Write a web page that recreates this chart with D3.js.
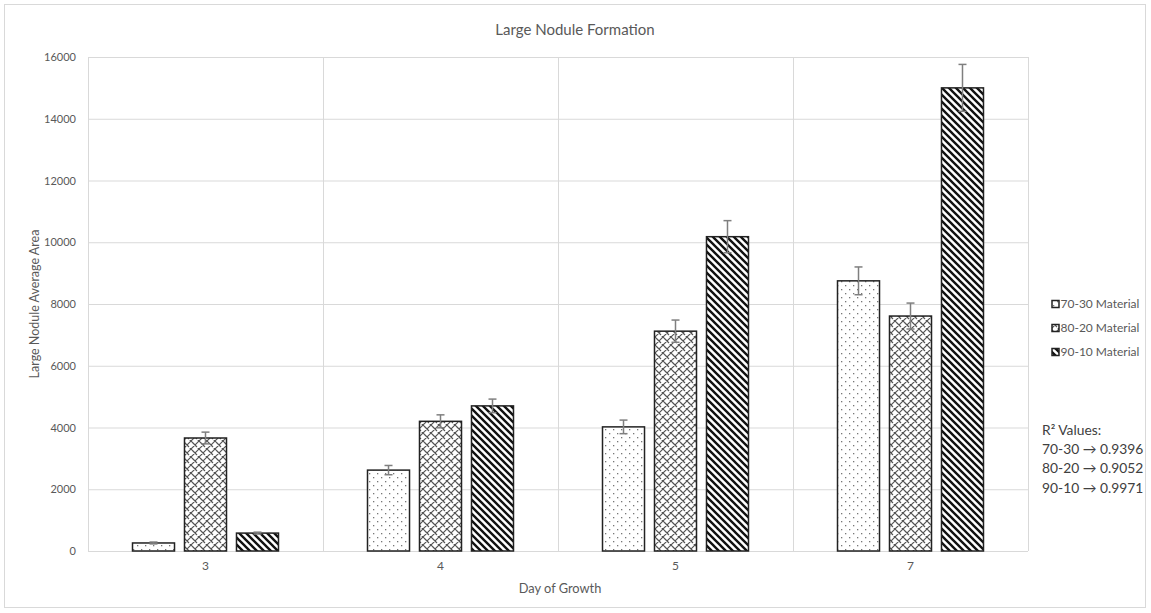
<!DOCTYPE html>
<html>
<head>
<meta charset="utf-8">
<script src="https://cdn.jsdelivr.net/npm/d3@7"></script>
<style>
  html, body { margin: 0; padding: 0; background: #fff; }
  svg { display: block; font-family: Lato, "Open Sans", sans-serif; }
</style>
</head>
<body>
<svg id="chart" width="1151" height="613"></svg>
<script>
// Days of growth on the x axis
const days = ["3", "4", "5", "7"];
// Material mixes (one bar per mix in each day group)
const materials = ["70-30 Material", "80-20 Material", "90-10 Material"];
// Average large-nodule area per mix, one value per day
const area7030 = [260, 2620, 4020, 8750];
const area8020 = [3660, 4200, 7120, 7610];
const area9010 = [580, 4700, 10180, 15000];
// Error bar half-lengths
const err7030 = [30, 150, 220, 450];
const err8020 = [190, 210, 360, 420];
const err9010 = [30, 220, 520, 760];
// Y axis ticks
const yTicks = [0, 2000, 4000, 6000, 8000, 10000, 12000, 14000, 16000];
// Coefficients of determination per mix
const r2Labels = ["R² Values:", "70-30 → 0.9396", "80-20 → 0.9052", "90-10 → 0.9971"];

const seriesValues = [area7030, area8020, area9010];
const seriesErrors = [err7030, err8020, err9010];
const patternIds = ["pat-dots", "pat-brick", "pat-stripes"];

const svg = d3.select("#chart");
const plot = { left: 88, right: 1028, top: 57, bottom: 551 };

// Fill patterns
const defs = svg.append("defs");
const pd = defs.append("pattern").attr("id", "pat-dots").attr("patternUnits", "userSpaceOnUse")
  .attr("width", 8).attr("height", 8);
pd.append("rect").attr("width", 8).attr("height", 8).attr("fill", "#fff");
pd.append("rect").attr("x", 1).attr("y", 1).attr("width", 1.3).attr("height", 1.3).attr("fill", "#777");
pd.append("rect").attr("x", 5).attr("y", 5).attr("width", 1.3).attr("height", 1.3).attr("fill", "#777");

const pb = defs.append("pattern").attr("id", "pat-brick").attr("patternUnits", "userSpaceOnUse")
  .attr("width", 8).attr("height", 8);
pb.append("rect").attr("width", 8).attr("height", 8).attr("fill", "#fff");
pb.append("path").attr("d", "M-1,9 L9,-1 M7,9 L9,7 M-1,1 L1,-1 M1,3 L5,7 M5,-1 L9,3 M-3,-1 L1,3")
  .attr("stroke", "#555").attr("stroke-width", 1.2).attr("fill", "none");

const ps = defs.append("pattern").attr("id", "pat-stripes").attr("patternUnits", "userSpaceOnUse")
  .attr("width", 7).attr("height", 7);
ps.append("rect").attr("width", 7).attr("height", 7).attr("fill", "#fff");
ps.append("path").attr("d", "M-2,-2 L9,9 M-2,5 L2,9 M5,-2 L9,2")
  .attr("stroke", "#111").attr("stroke-width", 2.4).attr("fill", "none");

// Outer chart frame
svg.append("rect").attr("x", 4.5).attr("y", 4.5).attr("width", 1141).attr("height", 603)
  .attr("fill", "#fff").attr("stroke", "#d9d9d9");

// Scales
const x0 = d3.scaleBand().domain(days).range([plot.left, plot.right]).paddingInner(0).paddingOuter(0);
const x1 = d3.scaleBand().domain(d3.range(materials.length)).range([0, x0.bandwidth()])
  .paddingInner(0.192).paddingOuter(0.856);
const y = d3.scaleLinear().domain([0, 16000]).range([plot.bottom, plot.top]);

// Horizontal gridlines
svg.append("g").selectAll("line").data(yTicks.filter(d => d > 0)).join("line")
  .attr("x1", plot.left).attr("x2", plot.right)
  .attr("y1", d => y(d) + 0.5).attr("y2", d => y(d) + 0.5)
  .attr("stroke", "#d9d9d9").attr("stroke-width", 1);

// Vertical category separators
const seps = days.map(d => x0(d)).concat([plot.right]);
svg.append("g").selectAll("line").data(seps).join("line")
  .attr("x1", d => d + 0.5).attr("x2", d => d + 0.5)
  .attr("y1", plot.top).attr("y2", plot.bottom)
  .attr("stroke", "#d9d9d9").attr("stroke-width", 1);

// Y axis labels
const yAxis = d3.axisLeft(y).tickValues(yTicks).tickSize(0).tickPadding(12).tickFormat(d3.format("d"));
const gy = svg.append("g").attr("transform", `translate(${plot.left},0)`).call(yAxis);
gy.select(".domain").remove();
gy.selectAll("text").attr("fill", "#595959").attr("font-size", 11).attr("font-family", "Lato, sans-serif");

// X axis
const xAxis = d3.axisBottom(x0).tickSize(0).tickPadding(10);
const gx = svg.append("g").attr("transform", `translate(0,${plot.bottom})`).call(xAxis);
gx.select(".domain").attr("stroke", "#d9d9d9").attr("d", `M${plot.left},0.5H${plot.right}`);
gx.selectAll("text").attr("fill", "#595959").attr("font-size", 12).attr("font-family", "Lato, sans-serif");

// Bars
const flat = [];
days.forEach((d, i) => materials.forEach((m, s) => {
  flat.push({ day: d, s, value: seriesValues[s][i], err: seriesErrors[s][i] });
}));

svg.append("g").selectAll("rect").data(flat).join("rect")
  .attr("x", d => x0(d.day) + x1(d.s))
  .attr("y", d => y(d.value))
  .attr("width", x1.bandwidth())
  .attr("height", d => y(0) - y(d.value))
  .attr("fill", d => `url(#${patternIds[d.s]})`)
  .attr("stroke", "#222").attr("stroke-width", 1.5);

// Error bars
const eg = svg.append("g").attr("stroke", "#7f7f7f").attr("stroke-width", 1.5).attr("fill", "none");
flat.forEach(d => {
  const cx = x0(d.day) + x1(d.s) + x1.bandwidth() / 2;
  const yTop = y(d.value + d.err), yBot = y(Math.max(0, d.value - d.err));
  eg.append("line").attr("x1", cx).attr("x2", cx).attr("y1", yTop).attr("y2", yBot);
  eg.append("line").attr("x1", cx - 4).attr("x2", cx + 4).attr("y1", yTop).attr("y2", yTop);
  eg.append("line").attr("x1", cx - 4).attr("x2", cx + 4).attr("y1", yBot).attr("y2", yBot);
});

// Title
svg.append("text").attr("x", 575).attr("y", 35).attr("text-anchor", "middle")
  .attr("fill", "#595959").attr("font-size", 15).text("Large Nodule Formation");

// Axis titles
svg.append("text").attr("transform", `translate(39,${(plot.top + plot.bottom) / 2}) rotate(-90)`)
  .attr("text-anchor", "middle").attr("fill", "#595959").attr("font-size", 12.5)
  .text("Large Nodule Average Area");
svg.append("text").attr("x", 560).attr("y", 593).attr("text-anchor", "middle")
  .attr("fill", "#595959").attr("font-size", 12.8).text("Day of Growth");

// Legend
const lg = svg.append("g").attr("transform", "translate(1052,304)");
materials.forEach((m, i) => {
  const g = lg.append("g").attr("transform", `translate(0,${i * 24})`);
  g.append("rect").attr("x", 0).attr("y", -3.5).attr("width", 7).attr("height", 7)
    .attr("fill", `url(#${patternIds[i]})`).attr("stroke", "#222").attr("stroke-width", 1.5);
  g.append("text").attr("x", 8.5).attr("y", 0).attr("dy", "0.35em")
    .attr("fill", "#595959").attr("font-size", 12).text(m);
});

// R² annotation
svg.append("g").selectAll("text").data(r2Labels).join("text")
  .attr("x", 1042).attr("y", (d, i) => 430 + i * 19.3).attr("dy", "0.35em")
  .attr("fill", "#404040").attr("font-size", 13.8).text(d => d);
</script>
</body>
</html>
